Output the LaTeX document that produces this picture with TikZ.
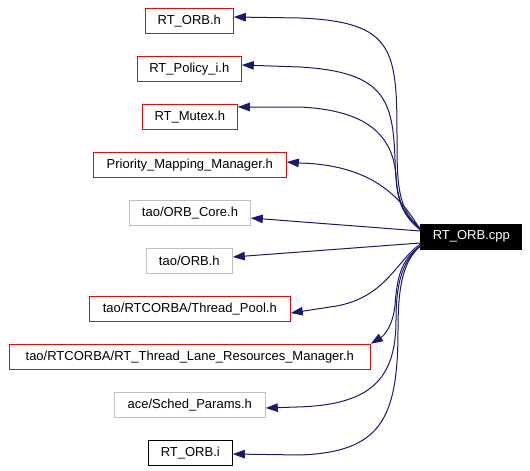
\documentclass[tikz,border=0pt]{standalone}
\usepackage{fontspec}
\setmainfont{Liberation Sans}
\usetikzlibrary{arrows.meta}
\definecolor{edgeblue}{HTML}{191970}
\definecolor{boxgray}{HTML}{BFBFBF}
\begin{document}
\begin{tikzpicture}[x=1pt,y=-1pt,
  filebox/.style={draw, line width=1pt, minimum height=25pt, inner sep=0pt, font=\fontsize{13}{15}\selectfont, anchor=center},
  redbox/.style={filebox, draw=red},
  graybox/.style={filebox, draw=boxgray},
  blackbox/.style={filebox, draw=black},
  mainbox/.style={filebox, draw=black, fill=black, text=white},
  dep/.style={draw=edgeblue, line width=1pt, -{Triangle[length=12pt,width=8.5pt]}}
]
\useasboundingbox (0,0) rectangle (530,471);
\node[redbox, minimum width=88pt] (orbh) at (189.3,20.8) {RT\_ORB.h};
\node[redbox, minimum width=104pt] (policy) at (189.3,68.8) {RT\_Policy\_i.h};
\node[redbox, minimum width=95pt] (mutex) at (189.8,116.8) {RT\_Mutex.h};
\node[redbox, minimum width=193pt] (prio) at (189.8,164.8) {Priority\_Mapping\_Manager.h};
\node[graybox, minimum width=120.6pt] (orbcore) at (190,212.8) {tao/ORB\_Core.h};
\node[graybox, minimum width=86pt] (orb) at (189.3,260.8) {tao/ORB.h};
\node[redbox, minimum width=201pt] (pool) at (189.8,308.8) {tao/RTCORBA/Thread\_Pool.h};
\node[redbox, minimum width=361pt] (lane) at (189.8,356.8) {tao/RTCORBA/RT\_Thread\_Lane\_Resources\_Manager.h};
\node[graybox, minimum width=151pt] (sched) at (189.8,404.8) {ace/Sched\_Params.h};
\node[blackbox, minimum width=84pt] (orbi) at (190.3,452.8) {RT\_ORB.i};
\node[mainbox, minimum width=101pt] (cpp) at (471.3,236.8) {RT\_ORB.cpp};

\draw[dep] ([yshift=8.8pt]cpp.west) .. controls (398,210) and (397,185) .. (397,140)
  .. controls (397,50) and (395,22) .. (300,18) -- ([yshift=3.8pt]orbh.east);
\draw[dep] ([yshift=7.8pt]cpp.west) .. controls (400,212) and (396,195) .. (395,160)
  .. controls (393,100) and (385,72) .. (300,67) -- ([yshift=3.8pt]policy.east);
\draw[dep] ([yshift=6.8pt]cpp.west) .. controls (402,215) and (397,200) .. (396,175)
  .. controls (392,130) and (360,110) .. (300,107) -- ([yshift=9.8pt]mutex.east);
\draw[dep] ([yshift=6.8pt]cpp.west) .. controls (400,195) and (370,165) .. (300,163) -- ([yshift=2.8pt]prio.east);
\draw[dep] ([yshift=5.8pt]cpp.west) -- ([yshift=-5.2pt]orbcore.east);
\draw[dep] ([yshift=-6.2pt]cpp.west) -- ([yshift=3.8pt]orb.east);
\draw[dep] ([yshift=-7.2pt]cpp.west) .. controls (395,262) and (385,300) .. (330,307) -- ([yshift=-4.2pt]pool.east);
\draw[dep] ([yshift=-9.2pt]cpp.west) .. controls (400,260) and (397,280) .. (395,305)
  .. controls (393,325) and (385,335) .. (lane.north east);
\draw[dep] ([yshift=-9.2pt]cpp.west) .. controls (400,262) and (396,290) .. (396,320)
  .. controls (396,380) and (370,405) .. (297,407) -- ([yshift=-3.2pt]sched.east);
\draw[dep] ([yshift=-9.2pt]cpp.west) .. controls (402,262) and (398,290) .. (398,330)
  .. controls (398,420) and (380,452) .. (300,455) -- ([yshift=-1.2pt]orbi.east);
\end{tikzpicture}
\end{document}
